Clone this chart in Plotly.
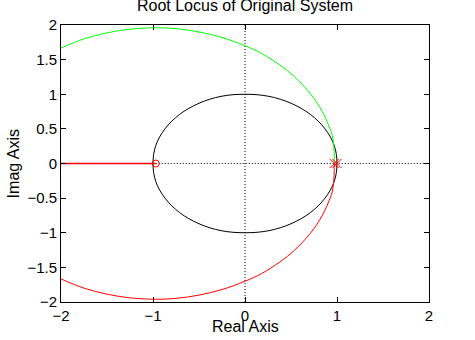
import plotly.graph_objects as go

# Black branch (closed loop around origin)
black_x = [1.0, 0.97, 0.87, 0.71, 0.5, 0.26, 0.0, -0.26, -0.5, -0.71, -0.87, -0.97, -1.0,
           -0.97, -0.87, -0.71, -0.5, -0.26, 0.0, 0.26, 0.5, 0.71, 0.87, 0.97, 1.0]
black_y = [0.0, 0.26, 0.5, 0.71, 0.87, 0.97, 1.0, 0.97, 0.87, 0.71, 0.5, 0.26, 0.0,
           -0.26, -0.5, -0.71, -0.87, -0.97, -1.0, -0.97, -0.87, -0.71, -0.5, -0.26, 0.0]

# Green branch (upper)
green_x = [0.97, 0.97, 0.965, 0.95, 0.925, 0.84, 0.715, 0.54, 0.38, 0.18, 0.0, -0.25, -0.5,
           -0.75, -0.97, -1.25, -1.5, -1.75, -2.0]
green_y = [0.0, 0.1, 0.25, 0.4, 0.5, 0.75, 1.0, 1.25, 1.42, 1.59, 1.70, 1.82, 1.90,
           1.948, 1.96, 1.94, 1.887, 1.80, 1.667]

# Red branch (lower, mirror of green)
red_x = green_x
red_y = [-v for v in green_y]

# Red branch on real axis
red_axis_x = [-2.0, -0.97]
red_axis_y = [0.0, 0.0]

# Poles and zeros
pole_x = [0.97, 1.0]
pole_y = [0.0, 0.0]
zero_x = [-0.97]
zero_y = [0.0]

x_ticks = [-2, -1, 0, 1, 2]
y_ticks = [-2, -1.5, -1, -0.5, 0, 0.5, 1, 1.5, 2]

FONT = "Liberation Sans, Arial, Helvetica"

fig = go.Figure()
fig.add_trace(go.Scatter(x=black_x, y=black_y, mode="lines", line=dict(color="black", width=1), line_shape="spline"))
fig.add_trace(go.Scatter(x=green_x, y=green_y, mode="lines", line=dict(color="#00ff00", width=1), line_shape="spline"))
fig.add_trace(go.Scatter(x=red_x, y=red_y, mode="lines", line=dict(color="#ff0000", width=1), line_shape="spline"))
fig.add_trace(go.Scatter(x=red_axis_x, y=red_axis_y, mode="lines", line=dict(color="#ff0000", width=1.3)))
fig.add_trace(go.Scatter(x=pole_x, y=pole_y, mode="markers",
                         marker=dict(symbol="x-thin", size=9, line=dict(color="#ff0000", width=1))))
fig.add_trace(go.Scatter(x=zero_x, y=zero_y, mode="markers",
                         marker=dict(symbol="circle-open", size=7, color="#ff0000", line=dict(color="#ff0000", width=1))))

fig.add_shape(type="line", x0=-0.97, x1=2, y0=0, y1=0, line=dict(color="black", width=1, dash="1px,2px"), layer="below")
fig.add_shape(type="line", x0=0, x1=0, y0=-2, y1=2, line=dict(color="black", width=1, dash="1px,2px"), layer="below")

axis_common = dict(showgrid=False, zeroline=False, showline=True, linecolor="black", linewidth=1,
                   mirror="ticks", ticks="inside", ticklen=5, tickcolor="black",
                   tickfont=dict(family=FONT, size=15, color="black"))

fig.update_layout(
    width=475, height=340,
    margin=dict(l=61, r=46, t=25, b=38),
    paper_bgcolor="white", plot_bgcolor="white",
    showlegend=False,
    title=dict(text="Root Locus of Original System", x=0.5158, xanchor="center",
               y=0.983, yanchor="middle", yref="container",
               font=dict(family=FONT, size=16, color="black")),
    xaxis=dict(range=[-2, 2], tickvals=x_ticks, **axis_common),
    yaxis=dict(range=[-2, 2], tickvals=y_ticks, **axis_common),
    annotations=[
        dict(text="Real Axis", x=0.5, y=-0.087, xref="paper", yref="paper", xanchor="center", yanchor="middle",
             showarrow=False, font=dict(family=FONT, size=16, color="black")),
        dict(text="Imag Axis", x=-0.128, y=0.5, xref="paper", yref="paper", xanchor="center", yanchor="middle",
             textangle=-90, showarrow=False, font=dict(family=FONT, size=16, color="black")),
    ],
)

fig.write_html("out.html")
